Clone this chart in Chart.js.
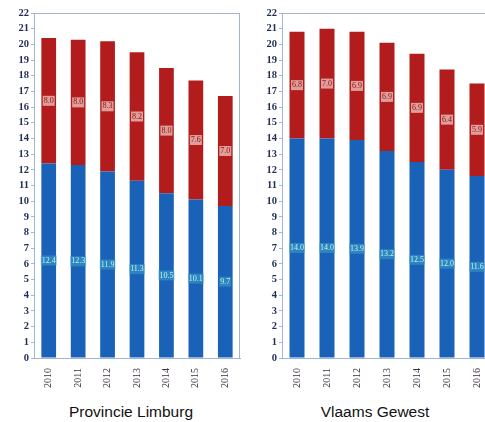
<!DOCTYPE html>
<html>
<head>
<meta charset="utf-8">
<script src="https://cdn.jsdelivr.net/npm/chart.js@4/dist/chart.umd.min.js"></script>
<style>
  body { margin: 0; background: #fff; width: 485px; height: 422px; overflow: hidden; position: relative; }
  .box { position: absolute; top: 0; height: 400px; }
  .title { position: absolute; top: 403px; width: 200px; text-align: center; font-family: "Liberation Sans", Arial, sans-serif; font-size: 15.5px; color: #111; }
</style>
</head>
<body>
<div class="box" style="left:0;width:241px"><canvas id="limburg"></canvas></div>
<div class="box" style="left:248px;width:245px"><canvas id="vlaams"></canvas></div>
<div class="title" style="left:31px">Provincie Limburg</div>
<div class="title" style="left:275px">Vlaams Gewest</div>
<script>
const years = ['2010', '2011', '2012', '2013', '2014', '2015', '2016'];
const limburgBlue = [12.4, 12.3, 11.9, 11.3, 10.5, 10.1, 9.7];
const limburgRed = [8.0, 8.0, 8.3, 8.2, 8.0, 7.6, 7.0];
const vlaamsBlue = [14.0, 14.0, 13.9, 13.2, 12.5, 12.0, 11.6];
const vlaamsRed = [6.8, 7.0, 6.9, 6.9, 6.9, 6.4, 5.9];
const yTicks = [0, 22, 1]; // min, max, step

const blue = '#1a62b8';
const red = '#b21c1c';
const frameColor = '#9db7d2';

// border round the plot area + value labels in each segment
const extras = {
  id: 'extras',
  afterDatasetsDraw(chart) {
    const ctx = chart.ctx;
    const a = chart.chartArea;
    ctx.save();
    ctx.strokeStyle = frameColor;
    ctx.lineWidth = 1;
    ctx.strokeRect(a.left + 0.5, a.top + 0.5, a.right - a.left - 1, a.bottom - a.top);
    ctx.font = '8px "Liberation Serif", serif';
    ctx.textAlign = 'center';
    ctx.textBaseline = 'middle';
    chart.data.datasets.forEach((ds, i) => {
      chart.getDatasetMeta(i).data.forEach((bar, j) => {
        const txt = ds.data[j].toFixed(1);
        const y = (bar.y + bar.base) / 2;
        const w = ctx.measureText(txt).width + 2;
        if (i == 1) {
          ctx.fillStyle = 'rgba(240, 200, 195, 0.75)';
          ctx.fillRect(bar.x - w / 2, y - 5, w, 10);
          ctx.fillStyle = '#8a1414';
        } else {
          ctx.fillStyle = 'rgba(60, 160, 200, 0.55)';
          ctx.fillRect(bar.x - w / 2, y - 5, w, 10);
          ctx.fillStyle = '#bff4f0';
        }
        ctx.fillText(txt, bar.x, y);
      });
    });
    ctx.restore();
  }
};

function crearChart(id, blueData, redData) {
  const ctx = document.getElementById(id);
  new Chart(ctx, {
    type: 'bar',
    data: {
      labels: years,
      datasets: [
        { data: blueData, backgroundColor: blue, borderWidth: 0, barPercentage: 0.5, categoryPercentage: 1 },
        { data: redData, backgroundColor: red, borderWidth: 0, barPercentage: 0.5, categoryPercentage: 1 }
      ]
    },
    options: {
      responsive: true,
      maintainAspectRatio: false,
      animation: false,
      layout: { padding: { top: 13, right: 1, left: 0, bottom: 0 } },
      scales: {
        x: {
          stacked: true,
          grid: { display: false },
          border: { color: frameColor },
          afterFit: (s) => { s.height = 42; },
          ticks: {
            color: '#3d3040',
            font: { family: '"Liberation Serif", serif', size: 10 },
            minRotation: 90,
            maxRotation: 90,
            padding: 2
          }
        },
        y: {
          stacked: true,
          min: yTicks[0],
          max: yTicks[1],
          grid: { drawOnChartArea: false, tickLength: 3, color: frameColor },
          border: { color: frameColor },
          afterFit: (s) => { s.width = 34; },
          ticks: {
            stepSize: yTicks[2],
            color: '#1f2d55',
            padding: 2,
            font: { family: '"Liberation Serif", serif', size: 10.5, weight: 'bold' }
          }
        }
      },
      plugins: {
        legend: { display: false },
        tooltip: { enabled: false }
      }
    },
    plugins: [extras]
  });
}

crearChart('limburg', limburgBlue, limburgRed);
crearChart('vlaams', vlaamsBlue, vlaamsRed);
</script>
</body>
</html>
